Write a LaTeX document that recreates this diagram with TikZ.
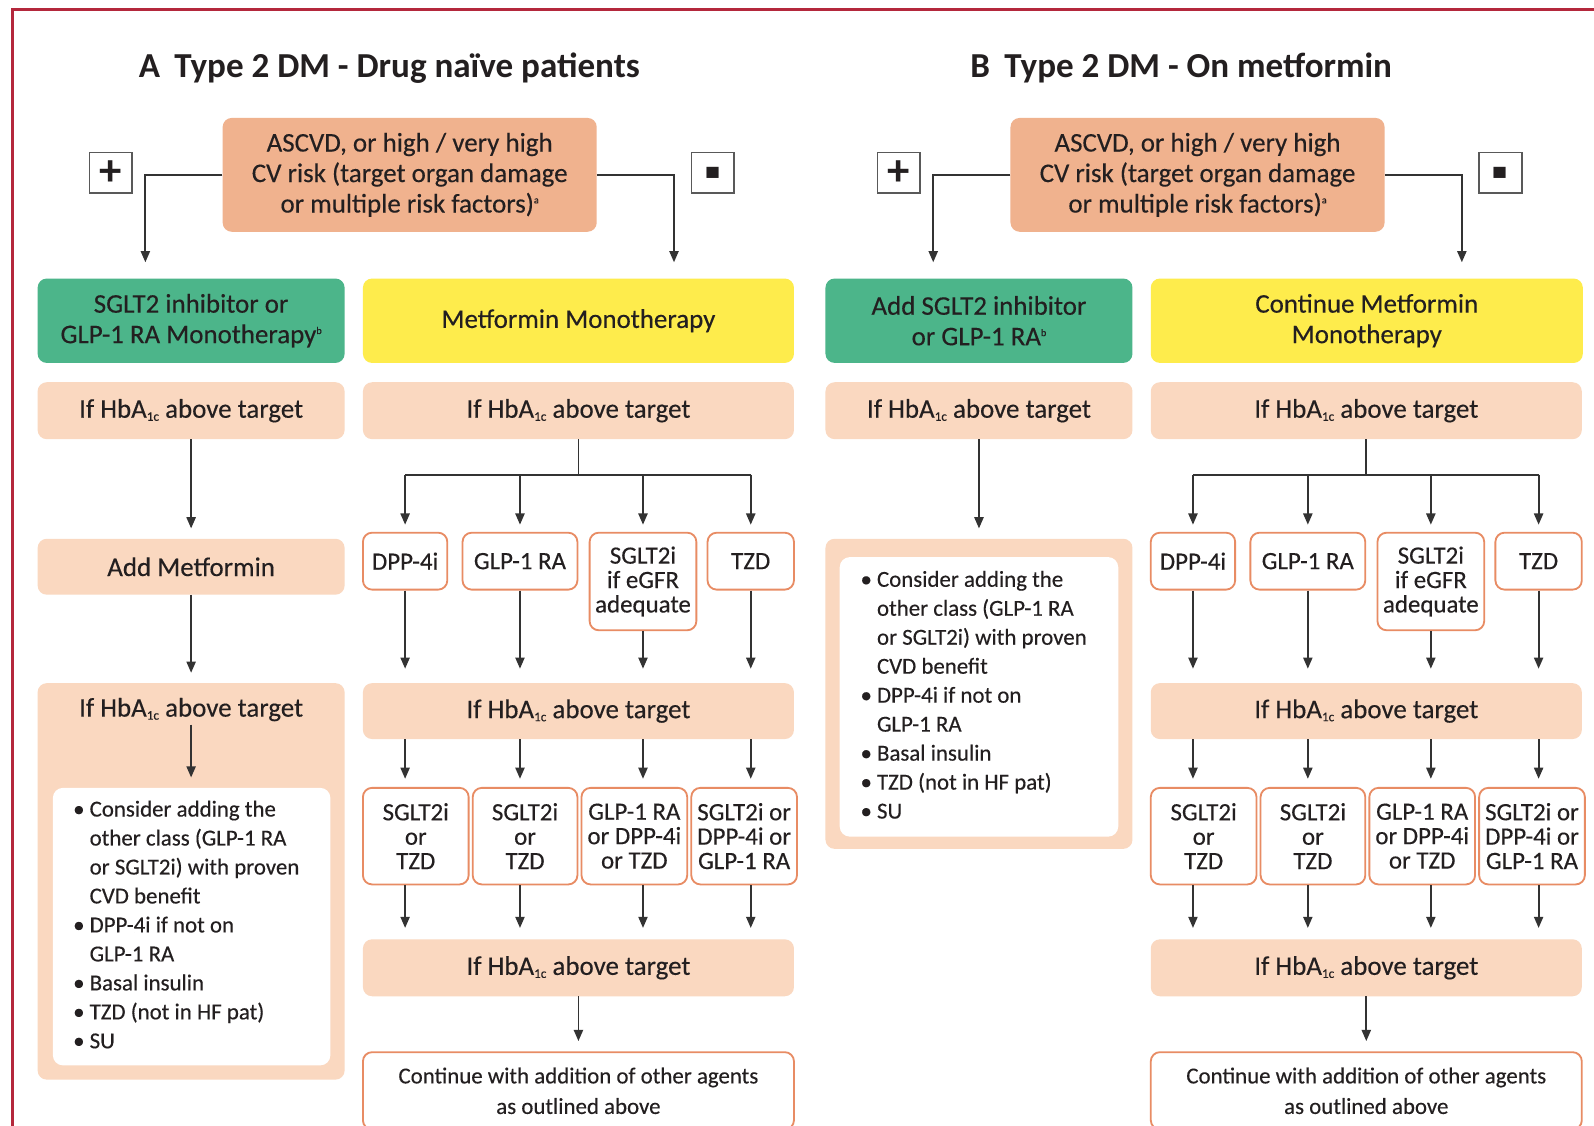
\documentclass[tikz,border=0pt]{standalone}
\usepackage{fontspec}
\setmainfont{Carlito}
\newfontfamily\medf{Carlito}[FakeBold=0.3]
\usetikzlibrary{arrows.meta}
\definecolor{asc}{HTML}{F0B28E}
\definecolor{peach}{HTML}{FAD8C0}
\definecolor{grn}{HTML}{4CB58A}
\definecolor{ylw}{HTML}{FEEC4C}
\definecolor{obd}{HTML}{E88C64}
\definecolor{frm}{HTML}{B4283C}
\definecolor{ln}{HTML}{333333}
\definecolor{txt}{HTML}{231F20}
\newcommand\hba{If HbA\raisebox{-3pt}{\fontsize{13}{13}\selectfont 1c} above target}
\newcommand\supa[1]{\raisebox{9pt}{\fontsize{10}{10}\selectfont #1}}
\newcommand\optlist{\medf\fontsize{22.5}{28.5}\selectfont\makebox[233pt][l]{\begin{tabular}{@{}l@{\hspace{5pt}}l@{}}
•&Consider adding the\\
&other class (GLP-1 RA\\
&or SGLT2i) with proven\\
&CVD benefit\\
•&DPP-4i if not on\\
&GLP-1 RA\\
•&Basal insulin\\
•&TZD (not in HF pat)\\
•&SU
\end{tabular}}}
\tikzset{
 every node/.style={text=txt},
 bx/.style={inner sep=0pt, align=center, font=\medf\fontsize{26.5}{30}\selectfont},
 ascbox/.style={bx, fill=asc, rounded corners=9pt},
 pchbox/.style={bx, fill=peach, rounded corners=9pt},
 grnbox/.style={bx, fill=grn, rounded corners=9pt},
 ylwbox/.style={bx, fill=ylw, rounded corners=9pt},
 drug/.style={bx, draw=obd, line width=1.8pt, fill=white, rounded corners=9pt, font=\medf\fontsize{24.5}{24}\selectfont},
 wbox/.style={fill=white, rounded corners=10pt, inner sep=0pt},
 sign/.style={draw=black!65, line width=1.5pt, fill=white, minimum width=42pt, minimum height=40pt, inner sep=0pt, font=\fontsize{44}{44}\selectfont\bfseries},
 plainline/.style={draw=ln, line width=1.8pt},
 arr/.style={draw=ln, line width=1.8pt, -{Triangle[length=11pt,width=9pt]}},
 ttl/.style={font=\fontsize{34.5}{34.5}\selectfont\bfseries, inner sep=0pt},
}
\begin{document}
\begin{tikzpicture}[x=1pt,y=-1pt]
\useasboundingbox (0,0) rectangle (1568,1107);
\clip (0,0) rectangle (1568,1107);
\fill[white] (0,0) rectangle (1568,1107);
\draw[frm, line width=2.5pt] (12.5,1110) -- (12.5,9.5) -- (1570,9.5);

\node[ttl] (tA) at (383,67) {A\hspace{14pt}Type 2 DM - Drug naïve patients};
\node[ttl] (tB) at (1162,67) {B\hspace{14pt}Type 2 DM - On metformin};

\foreach \p/\dx in {A/0,B/775}{
\begin{scope}[xshift=\dx pt]
\node[ascbox, minimum width=368pt, minimum height=112pt] (\p asc) at (403,172) {ASCVD, or high / very high\\CV risk (target organ damage\\or multiple risk factors)\supa{a}};
\node[sign] (\p plus) at (109,170) {+};
\node[sign] (\p minus) at (701,170) {\raisebox{-30.5pt}[4.5pt][4.5pt]{\scalebox{1.1}[2.4]{-}}};
\coordinate (\p lend) at (143,258);
\coordinate (\p rend) at (663,258);
\draw[arr] (\p asc.west) -| (\p lend);
\draw[arr] (\p asc.east) -| (\p rend);
% right column
\node[pchbox, minimum width=424pt, minimum height=56pt] (\p h1) at (569,404) {\hba};
\coordinate (\p split) at (569,467);
\node[drug, minimum width=83pt, minimum height=56pt] (\p r1) at (398.5,552) {DPP-4i};
\node[drug, minimum width=113pt, minimum height=56pt] (\p r2) at (511.5,552) {GLP-1 RA};
\node[drug, minimum width=105pt, minimum height=96pt] (\p r3) at (632.5,572) {SGLT2i\\if eGFR\\adequate};
\node[drug, minimum width=85pt, minimum height=56pt] (\p r4) at (738.5,552) {TZD};
\draw[plainline] (\p h1.south) -- (\p split);
\draw[plainline] (\p split -| \p r1.north) -- (\p split -| \p r4.north);
\node[pchbox, minimum width=424pt, minimum height=55pt] (\p h2) at (569,699.5) {\hba};
\node[drug, minimum width=104pt, minimum height=95pt] (\p s1) at (409,822.5) {SGLT2i\\or\\TZD};
\node[drug, minimum width=103pt, minimum height=95pt] (\p s2) at (516.5,822.5) {SGLT2i\\or\\TZD};
\node[drug, minimum width=104pt, minimum height=95pt] (\p s3) at (624,822.5) {GLP-1 RA\\or DPP-4i\\or TZD};
\node[drug, minimum width=104pt, minimum height=95pt] (\p s4) at (732,822.5) {SGLT2i or\\DPP-4i or\\GLP-1 RA};
\node[pchbox, minimum width=424pt, minimum height=56pt] (\p h3) at (569,952) {\hba};
\node[drug, font=\medf\fontsize{22.5}{30}\selectfont, minimum width=424pt, minimum height=76pt] (\p cont) at (569,1073) {Continue with addition of other agents\\as outlined above};
\foreach \k in {1,...,4}{
 \draw[arr, shorten >=7pt] (\p split -| \p r\k.north) -- (\p r\k.north);
 \draw[arr, shorten >=14pt] (\p r\k.south) -- (\p r\k.south |- \p h2.north);
 \draw[arr, shorten >=8pt] (\p r\k.south |- \p h2.south) -- (\p r\k.south |- \p s\k.north);
 \draw[arr, shorten >=11pt] (\p r\k.south |- \p s\k.south) -- (\p r\k.south |- \p h3.north);
}
\draw[arr, shorten >=10pt] (\p h3.south) -- (\p cont.north);
\end{scope}
}

% Panel A left column
\node[grnbox, minimum width=302pt, minimum height=83pt] (Agrn) at (188,315.5) {SGLT2 inhibitor or\\GLP-1 RA Monotherapy\supa{b}};
\node[ylwbox, minimum width=424pt, minimum height=83pt] (Aylw) at (569,315.5) {Metformin Monotherapy};
\node[pchbox, minimum width=302pt, minimum height=56pt] (Ah0) at (188,404) {\hba};
\node[pchbox, minimum width=302pt, minimum height=55pt] (Aadd) at (188,557.5) {Add Metformin};
\draw[arr, shorten >=10pt] (Ah0.south) -- (Aadd.north);
\node[pchbox, minimum width=302pt, minimum height=390pt] (Apanel) at (188,867) {};
\draw[arr, shorten >=10pt] (Aadd.south) -- (Apanel.north);
\node[bx] (Apt) at (188,698) {\hba};
\node[wbox, minimum width=273pt, minimum height=273pt] (Alist) at (188.5,911.5) {\optlist};
\draw[arr, shorten >=10pt, shorten <=3pt] (Apt.south) -- (Apt.south |- Alist.north);

% Panel B left column
\node[grnbox, minimum width=302pt, minimum height=83pt] (Bgrn) at (963,315.5) {Add SGLT2 inhibitor\\or GLP-1 RA\supa{b}};
\node[ylwbox, minimum width=425pt, minimum height=83pt] (Bylw) at (1344.5,315.5) {Continue Metformin\\Monotherapy};
\node[pchbox, minimum width=302pt, minimum height=56pt] (Bh0) at (963,404) {\hba};
\node[pchbox, minimum width=302pt, minimum height=305pt] (Bpanel) at (963,682.5) {};
\node[wbox, minimum width=274pt, minimum height=275pt] (Blist) at (963,685.5) {\optlist};
\draw[arr, shorten >=10pt] (Bh0.south) -- (Bpanel.north);
\end{tikzpicture}
\end{document}
